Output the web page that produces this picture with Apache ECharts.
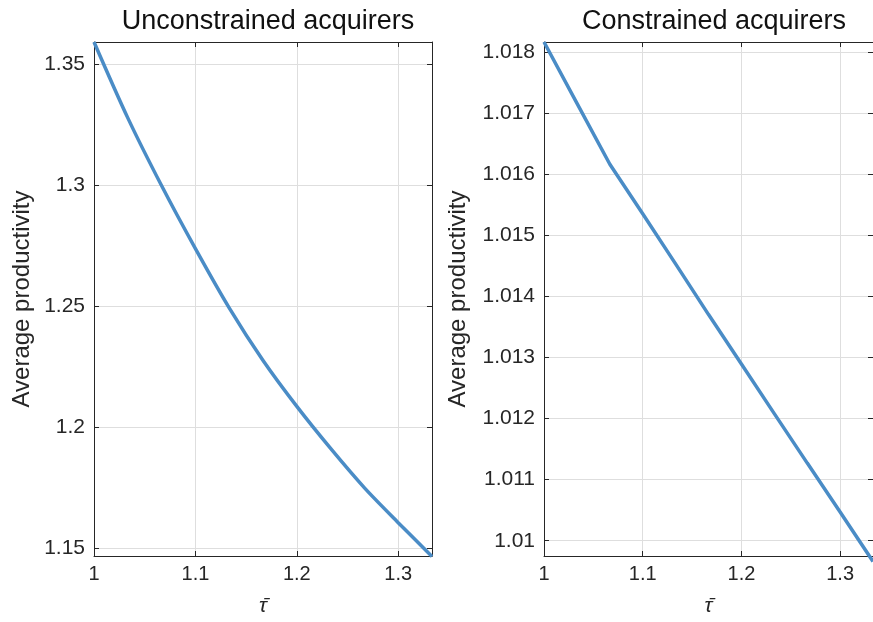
<!DOCTYPE html>
<html>
<head>
<meta charset="utf-8">
<script src="https://cdn.jsdelivr.net/npm/echarts@6/dist/echarts.min.js"></script>
<style>
html,body{margin:0;padding:0;background:#fff;}
#main{width:873px;height:622px;}
</style>
</head>
<body>
<div id="main"></div>
<script>
// ---- data ----
const tau = [1, 1.0333, 1.0667, 1.1, 1.1333, 1.1667, 1.2, 1.2333, 1.2667, 1.3, 1.3333];
const unconstrained = [1.3593, 1.3279, 1.2998, 1.2738, 1.2493, 1.2275, 1.2085, 1.1911, 1.1748, 1.1604, 1.1464];
const constrained = [1.01816, 1.01716, 1.01616, 1.01535, 1.01453, 1.01370, 1.01289, 1.01208, 1.01127, 1.01047, 1.00966];
const titles = ['Unconstrained acquirers', 'Constrained acquirers'];
const yName = 'Average productivity';
const xName = '\u03C4\u0304';

const FONT = '"Liberation Sans", Arial, Helvetica, sans-serif';
const AX = '#262626';
const GRIDC = '#dedede';
const LINEC = '#4a8cc6';

function mkX(gi, pos, show) {
  return {
    type: 'value', gridIndex: gi, position: pos,
    min: 1, max: 1.3333, interval: 0.1,
    name: show ? xName : '', nameLocation: 'middle', nameGap: 40,
    nameTextStyle: {fontFamily: FONT, fontSize: 21, color: AX, fontStyle: 'italic'},
    axisLine: {show: true, onZero: false, lineStyle: {color: AX, width: 1}},
    axisTick: {show: true, inside: true, length: 5, lineStyle: {color: AX}},
    axisLabel: {show: show, showMaxLabel: false, margin: 8, fontFamily: FONT, fontSize: 20, color: AX},
    splitLine: {show: show, lineStyle: {color: GRIDC, width: 1}}
  };
}
function mkY(gi, pos, show, mn, mx, split, gap) {
  return {
    type: 'value', gridIndex: gi, position: pos,
    min: mn, max: mx, splitNumber: split,
    name: show ? yName : '', nameLocation: 'middle', nameGap: gap,
    nameTextStyle: {fontFamily: FONT, fontSize: 24, color: AX},
    axisLine: {show: true, onZero: false, lineStyle: {color: AX, width: 1}},
    axisTick: {show: true, inside: true, length: 5, lineStyle: {color: AX}},
    axisLabel: {show: show, showMinLabel: false, showMaxLabel: false, margin: 9, fontFamily: FONT, fontSize: 21, color: AX},
    splitLine: {show: show, lineStyle: {color: GRIDC, width: 1}}
  };
}

const chart = echarts.init(document.getElementById('main'), null, {renderer: 'canvas'});
chart.setOption({
  animation: false,
  backgroundColor: '#fff',
  title: [
    {text: titles[0], left: 263, top: 3, textAlign: 'center',
     textStyle: {fontFamily: FONT, fontSize: 27, fontWeight: 'normal', color: '#111'}},
    {text: titles[1], left: 709, top: 3, textAlign: 'center',
     textStyle: {fontFamily: FONT, fontSize: 27, fontWeight: 'normal', color: '#111'}}
  ],
  grid: [
    {left: 94, top: 42, width: 338, height: 521},
    {left: 544, top: 42, width: 338, height: 521}
  ],
  xAxis: [
    mkX(0, 'bottom', true), mkX(0, 'top', false),
    mkX(1, 'bottom', true), mkX(1, 'top', false)
  ],
  yAxis: [
    mkY(0, 'left', true, 1.1466, 1.3593, 5, 60), mkY(0, 'right', false, 1.1466, 1.3593, 5, 0),
    mkY(1, 'left', true, 1.00975, 1.01816, 8, 74), mkY(1, 'right', false, 1.00975, 1.01816, 8, 0)
  ],
  series: [
    {type: 'line', xAxisIndex: 0, yAxisIndex: 0, data: tau.map((t, i) => [t, unconstrained[i]]),
     smooth: 0.3, showSymbol: false, clip: false, lineStyle: {color: LINEC, width: 3.5}},
    {type: 'line', xAxisIndex: 2, yAxisIndex: 2, data: tau.map((t, i) => [t, constrained[i]]),
     smooth: false, showSymbol: false, clip: false, lineStyle: {color: LINEC, width: 3.5}}
  ]
});
</script>
</body>
</html>
